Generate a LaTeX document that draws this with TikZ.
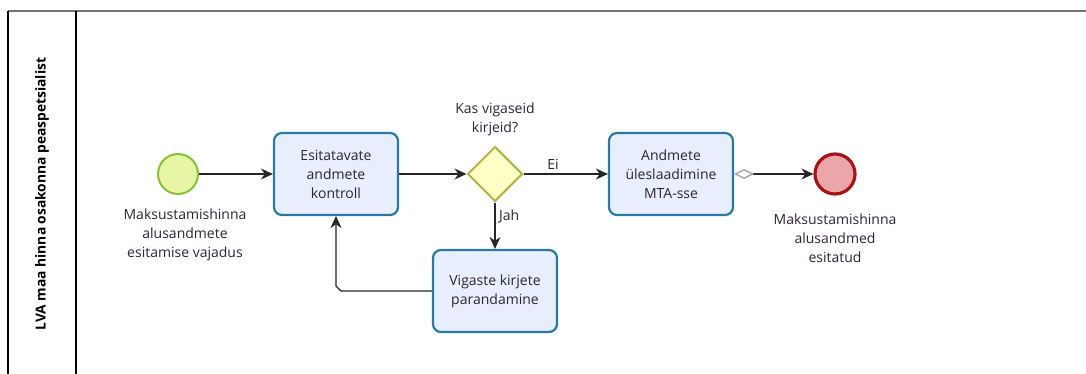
\documentclass[tikz,border=0pt]{standalone}
\usepackage{fontspec}
\setmainfont{Open Sans}
\usetikzlibrary{arrows.meta,shapes.geometric}

\definecolor{taskfill}{HTML}{E8EEFB}
\definecolor{taskline}{HTML}{2A78A4}
\definecolor{startfill}{HTML}{E6F5A6}
\definecolor{startline}{HTML}{86C23A}
\definecolor{endfill}{HTML}{EBA6A9}
\definecolor{endline}{HTML}{A41418}
\definecolor{gwfill}{HTML}{FFFFC6}
\definecolor{gwline}{HTML}{B3B347}
\definecolor{txt}{HTML}{2E2438}

\tikzset{
  task/.style={rectangle, rounded corners=8pt, draw=taskline, line width=2.2pt,
    fill=taskfill, minimum width=124pt, minimum height=82pt, align=center,
    text=txt, font=\fontsize{14}{19}\selectfont},
  lbl/.style={align=center, text=txt, font=\fontsize{14}{19}\selectfont},
  flow/.style={draw=black!85, line width=1.4pt, -{Stealth[length=12pt,width=11pt]}}
}

\begin{document}
\begin{tikzpicture}[x=1pt,y=-1pt]
\useasboundingbox (0,0) rectangle (1086,374);
% pool
\draw[gray!90!black, line width=2.2pt] (8,11) -- (1086,11);
\draw[black, line width=1.2pt] (8,11) -- (8,374);
\draw[black, line width=1.5pt] (76,11) -- (76,374);
\node[rotate=90, font=\bfseries\fontsize{13.8}{16}\selectfont] (lane) at (42,194) {LVA maa hinna osakonna peaspetsialist};

% events, tasks, gateway
\node[circle, draw=startline, fill=startfill, line width=2pt, minimum size=40pt, inner sep=0pt] (start) at (178,174) {};
\node[task] (check) at (336,174) {Esitatavate\\andmete\\kontroll};
\node[diamond, draw=gwline, fill=gwfill, line width=2pt, minimum width=55pt, minimum height=55pt, inner sep=0pt] (gw) at (495,174) {};
\node[task] (upload) at (671,174) {Andmete\\üleslaadimine\\MTA-sse};
\node[task] (fix) at (495,291) {Vigaste kirjete\\parandamine};
\node[circle, draw=endline, fill=endfill, line width=3.2pt, minimum size=40pt, inner sep=0pt] (end) at (835,174) {};

% labels
\node[lbl, below] (startlbl) at (185,205) {Maksustamishinna\\alusandmete\\esitamise vajadus};
\node[lbl, above] (gwlbl) at (495,139) {Kas vigaseid\\kirjeid?};
\node[lbl, below] (endlbl) at (835,210) {Maksustamishinna\\alusandmed\\esitatud};

% flows
\draw[flow] (start) -- (check);
\draw[flow] (check) -- (gw);
\draw[flow] (gw) -- node[lbl, above, pos=0.35] {Ei} (upload);
\draw[flow] (gw) -- node[lbl, right, pos=0.3] {Jah} (fix);
\coordinate (bend) at (341,291);
\draw[flow] (fix.west) -- (bend) -- ++(-5,-5) -- (check.south);
\draw[flow, {Diamond[open, length=20pt, width=10pt, color=gray!70]}-{Stealth[length=12pt,width=11pt]}] (upload) -- (end);
\end{tikzpicture}
\end{document}
